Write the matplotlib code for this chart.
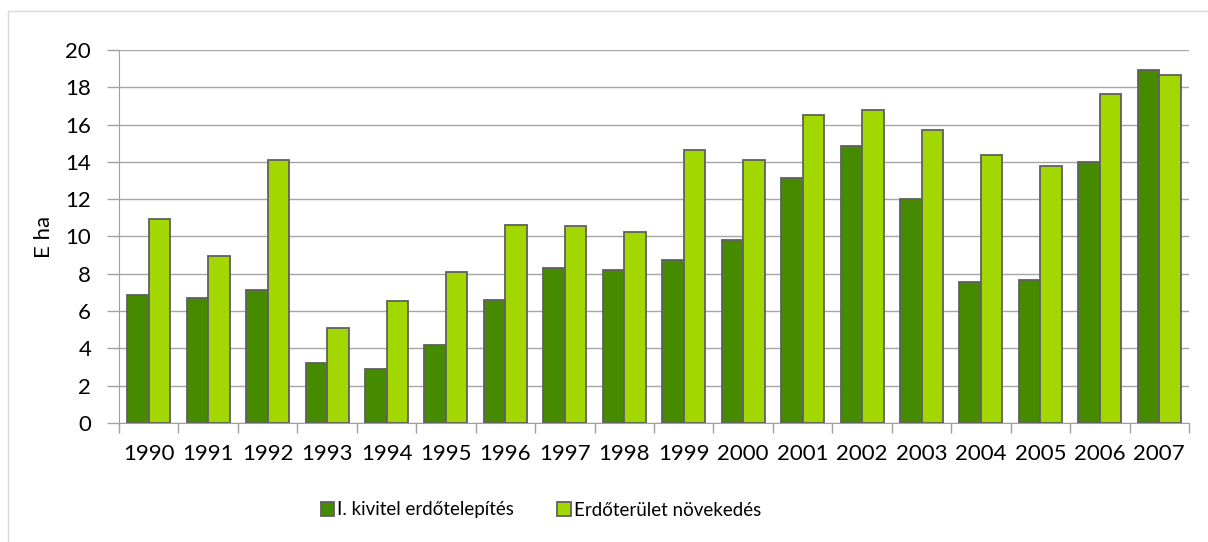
import matplotlib.pyplot as plt
from matplotlib.patches import Rectangle
import numpy as np

plt.rcParams['font.family'] = ['Lato', 'DejaVu Sans']

years = ['1990', '1991', '1992', '1993', '1994', '1995', '1996', '1997', '1998',
         '1999', '2000', '2001', '2002', '2003', '2004', '2005', '2006', '2007']
telepites = [6.88, 6.72, 7.13, 3.23, 2.88, 4.18, 6.61, 8.33, 8.2,
             8.72, 9.81, 13.14, 14.85, 12.01, 7.58, 7.65, 13.99, 18.94]
novekedes = [10.95, 8.97, 14.1, 5.08, 6.56, 8.08, 10.6, 10.56, 10.24,
             14.62, 14.09, 16.51, 16.78, 15.73, 14.37, 13.76, 17.64, 18.64]
labels = ['I. kivitel erdőtelepítés', 'Erdőterület növekedés']

W, H = 1208, 542
fig = plt.figure(figsize=(W / 100, H / 100), dpi=100)
ax = fig.add_axes([119 / W, 1 - 423 / H, 1070 / W, 373 / H])

# keret a diagram körül
fig.patches.append(Rectangle((8 / W, -0.01), 1.0, 1 - 11 / H + 0.01,
                             transform=fig.transFigure, fill=False,
                             edgecolor='#d9d9d9', linewidth=1))

x = np.arange(len(years))
bw = 0.362
ax.bar(x - bw / 2, telepites, bw, color='#468a00', edgecolor='#606060',
       linewidth=1.3, label=labels[0], zorder=3)
ax.bar(x + bw / 2, novekedes, bw, color='#a2d800', edgecolor='#606060',
       linewidth=1.3, label=labels[1], zorder=3)

ax.set_xlim(-0.5, len(years) - 0.5)
ax.set_ylim(0, 20)
ax.set_yticks(range(0, 21, 2))
ax.set_xticks(np.arange(len(years) + 1) - 0.5)
ax.set_xticklabels([])
ax.set_xticks(x, minor=True)
ax.set_xticklabels(years, minor=True)
ax.tick_params(axis='x', which='major', length=7, color='#a0a0a0', width=1)
ax.tick_params(axis='x', which='minor', length=0, pad=15, labelsize=16)
ax.tick_params(axis='y', length=9, color='#a0a0a0', width=1, labelsize=16, pad=11)

ax.grid(axis='y', color='#a6a6a6', linewidth=1, zorder=0)
for s in ['top', 'right']:
    ax.spines[s].set_visible(False)
ax.spines['left'].set_color('#a0a0a0')
ax.spines['bottom'].set_color('#a0a0a0')

ax.set_ylabel('E ha', fontsize=16)
ax.yaxis.set_label_coords(-(119 - 54) / 1070, 0.5)

fig.legend(loc='center', bbox_to_anchor=(541 / W, 1 - 510 / H), ncol=2,
           frameon=False, fontsize=13.5, handlelength=0.7, handleheight=0.8,
           handletextpad=0.2, columnspacing=2.3)

plt.savefig('out.png', dpi=100)
